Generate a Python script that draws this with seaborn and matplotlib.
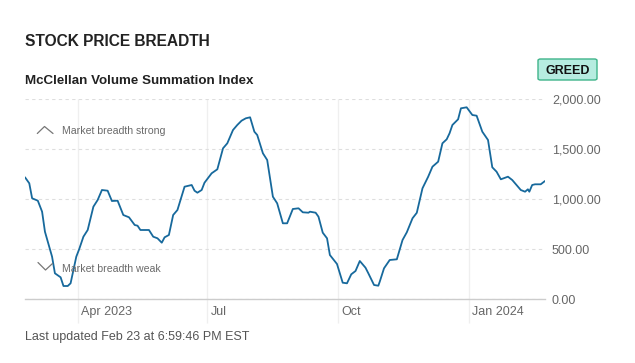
import pandas as pd
import matplotlib.pyplot as plt
import matplotlib.transforms as mtransforms
from matplotlib.lines import Line2D
from matplotlib.patches import FancyBboxPatch
import seaborn as sns

# McClellan Volume Summation Index
dates = [
    "2023-02-23", "2023-02-26", "2023-02-28", "2023-03-04", "2023-03-07", "2023-03-09",
    "2023-03-11", "2023-03-14", "2023-03-16", "2023-03-20", "2023-03-22", "2023-03-25",
    "2023-03-27", "2023-03-29", "2023-03-31", "2023-04-02", "2023-04-05", "2023-04-08",
    "2023-04-12", "2023-04-15", "2023-04-18", "2023-04-22", "2023-04-25", "2023-04-29",
    "2023-05-03", "2023-05-07", "2023-05-11", "2023-05-13", "2023-05-15", "2023-05-21",
    "2023-05-24", "2023-05-27", "2023-05-30", "2023-06-01", "2023-06-04", "2023-06-07",
    "2023-06-10", "2023-06-15", "2023-06-20", "2023-06-22", "2023-06-24", "2023-06-27",
    "2023-06-29", "2023-07-04", "2023-07-08", "2023-07-12", "2023-07-15", "2023-07-19",
    "2023-07-22", "2023-07-25", "2023-07-28", "2023-07-31", "2023-08-03", "2023-08-05",
    "2023-08-09", "2023-08-12", "2023-08-16", "2023-08-19", "2023-08-23", "2023-08-26",
    "2023-08-30", "2023-09-03", "2023-09-06", "2023-09-10", "2023-09-11", "2023-09-15",
    "2023-09-17", "2023-09-20", "2023-09-23", "2023-09-25", "2023-09-30", "2023-10-04",
    "2023-10-07", "2023-10-10", "2023-10-13", "2023-10-16", "2023-10-20", "2023-10-22",
    "2023-10-26", "2023-10-29", "2023-10-30", "2023-11-02", "2023-11-06", "2023-11-11",
    "2023-11-15", "2023-11-18", "2023-11-22", "2023-11-25", "2023-11-29", "2023-12-03",
    "2023-12-06", "2023-12-10", "2023-12-13", "2023-12-16", "2023-12-18", "2023-12-20",
    "2023-12-24", "2023-12-26", "2023-12-30", "2024-01-03", "2024-01-06", "2024-01-10",
    "2024-01-14", "2024-01-17", "2024-01-20", "2024-01-23", "2024-01-28", "2024-01-31",
    "2024-02-06", "2024-02-09", "2024-02-11", "2024-02-12", "2024-02-14", "2024-02-16",
    "2024-02-20", "2024-02-23",
]
values = [
    1220, 1160, 1010, 986, 876, 676,
    576, 426, 260, 220, 133, 133,
    160, 293, 426, 500, 626, 693,
    926, 993, 1093, 1086, 983, 986,
    843, 820, 743, 736, 693, 693,
    626, 610, 566, 620, 643, 843,
    893, 1126, 1143, 1086, 1066, 1093,
    1166, 1260, 1300, 1510, 1560, 1693,
    1743, 1786, 1810, 1820, 1676, 1643,
    1460, 1393, 1026, 960, 760, 760,
    903, 910, 870, 866, 876, 866,
    826, 666, 610, 443, 353, 166,
    160, 250, 283, 383, 316, 260,
    143, 136, 176, 310, 393, 400,
    593, 670, 810, 865, 1110, 1226,
    1326, 1376, 1560, 1600, 1660, 1743,
    1800, 1910, 1920, 1843, 1836, 1676,
    1593, 1320, 1276, 1200, 1226, 1193,
    1093, 1076, 1100, 1076, 1143, 1150,
    1150, 1183,
]
tick_dates = ["2023-04-01", "2023-07-01", "2023-10-01", "2024-01-01"]
tick_labels = ["Apr 2023", "Jul", "Oct", "Jan 2024"]
y_ticks = [0, 500, 1000, 1500, 2000]

df = pd.DataFrame({"date": pd.to_datetime(dates), "value": values})

sns.set_style("white")
plt.rcParams["font.family"] = ["Liberation Sans", "DejaVu Sans"]

W, H = 635, 363
fig = plt.figure(figsize=(W / 100, H / 100), dpi=100)


def fx(x):
    return x / W


def fy(y):
    return 1 - y / H


ax = fig.add_axes([fx(25), fy(299.3), fx(545) - fx(25), fy(99.3) - fy(299.3)])

sns.lineplot(data=df, x="date", y="value", ax=ax, color="#17699c", linewidth=1.3, zorder=3)

ax.set_xlim(pd.Timestamp("2023-02-23"), pd.Timestamp("2024-02-23"))
ax.set_ylim(0, 2000)
ax.set_xlabel("")
ax.set_ylabel("")

# horizontal dashed grid
ax.set_yticks(y_ticks)
ax.set_yticklabels([f"{v:,.2f}" for v in y_ticks])
ax.yaxis.tick_right()
ax.tick_params(axis="y", length=0, pad=5, labelsize=9, labelcolor="#666666")
ax.grid(axis="y", linestyle=(0, (3, 3)), color="#dedede", linewidth=0.8)
ax.grid(axis="x", visible=False)

# vertical month lines running into the tick label area
tick_pos = pd.to_datetime(tick_dates)
trans = mtransforms.blended_transform_factory(ax.transData, ax.transAxes)
ax.vlines(tick_pos, -0.12, 1.0, transform=trans, color="#efefef", linewidth=0.9,
          clip_on=False, zorder=0)

ax.set_xticks(tick_pos)
ax.set_xticklabels(tick_labels)
ax.tick_params(axis="x", length=0, pad=5, labelsize=9, labelcolor="#666666")
offset = mtransforms.ScaledTranslation(3 / 100, 0, fig.dpi_scale_trans)
for lab in ax.get_xticklabels():
    lab.set_horizontalalignment("left")
    lab.set_transform(lab.get_transform() + offset)

for side in ["top", "left", "right"]:
    ax.spines[side].set_visible(False)
ax.spines["bottom"].set_color("#cccccc")
ax.spines["bottom"].set_linewidth(1.0)

# titles
fig.text(fx(25), fy(42), "STOCK PRICE BREADTH", fontsize=11.2, fontweight="bold",
         color="#222222", va="center", ha="left")
fig.text(fx(25), fy(81), "McClellan Volume Summation Index", fontsize=9.6,
         fontweight="bold", color="#222222", va="center", ha="left")

# GREED badge
badge = FancyBboxPatch((fx(538), fy(80)), fx(597) - fx(538), fy(59) - fy(80),
                       boxstyle="round,pad=0,rounding_size=0.004",
                       transform=fig.transFigure, facecolor="#b6ece0",
                       edgecolor="#3fb48a", linewidth=1.0)
fig.add_artist(badge)
fig.text(fx(567.5), fy(70), "GREED", fontsize=9, fontweight="bold", color="#111111",
         va="center_baseline", ha="center")

# breadth annotations
fig.add_artist(Line2D([fx(37.3), fx(44.5), fx(53)], [fy(133.5), fy(126.5), fy(133.5)],
                      transform=fig.transFigure, color="#777777", linewidth=0.9))
fig.text(fx(62), fy(131), "Market breadth strong", fontsize=7.6, color="#6a6a6a",
         va="center", ha="left")
fig.add_artist(Line2D([fx(38), fx(45.5), fx(52.5)], [fy(262.5), fy(270), fy(263.5)],
                      transform=fig.transFigure, color="#777777", linewidth=0.9, zorder=1))
fig.text(fx(62), fy(268.5), "Market breadth weak", fontsize=7.6, color="#6a6a6a",
         va="center", ha="left", zorder=1)

fig.text(fx(25), fy(337), "Last updated Feb 23 at 6:59:46 PM EST", fontsize=9,
         color="#555555", va="center", ha="left")

fig.savefig("out.png", dpi=100)
